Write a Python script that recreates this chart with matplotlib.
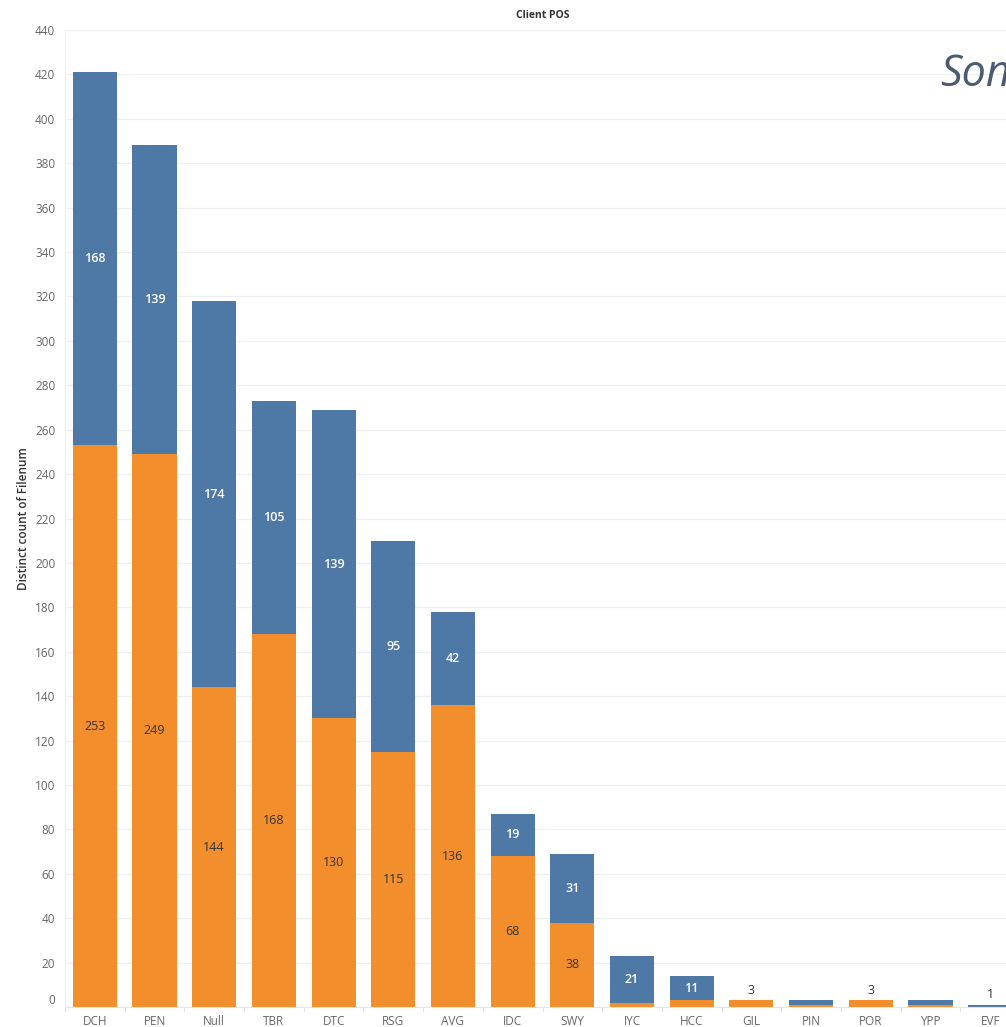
import matplotlib.pyplot as plt
import numpy as np

plt.rcParams['font.family'] = ['Open Sans', 'DejaVu Sans']

# data
categories = ['DCH', 'PEN', 'Null', 'TBR', 'DTC', 'RSG', 'AVG', 'IDC', 'SWY',
              'IYC', 'HCC', 'GIL', 'PIN', 'POR', 'YPP', 'EVF']
orange_vals = [253, 249, 144, 168, 130, 115, 136, 68, 38, 2, 3, 3, 1, 3, 1, 0]
blue_vals = [168, 139, 174, 105, 139, 95, 42, 19, 31, 21, 11, 0, 2, 0, 2, 1]

BLUE = '#4e79a7'
ORANGE = '#f28e2b'

fig = plt.figure(figsize=(10.06, 10.27), dpi=100)
# axes runs past the right edge like the screenshot
ax = fig.add_axes([65 / 1006, 20 / 1027, 955 / 1006, 977 / 1027])

x = np.arange(len(categories))
w = 0.74
ax.bar(x, orange_vals, width=w, color=ORANGE, zorder=2)
ax.bar(x, blue_vals, width=w, bottom=orange_vals, color=BLUE, zorder=2)

for i, (o, b) in enumerate(zip(orange_vals, blue_vals)):
    if b >= 10:
        ax.text(i, o + b / 2, str(b), ha='center', va='center', color='white',
                fontsize=9, fontweight='semibold', zorder=3)
    if o >= 10:
        ax.text(i, o / 2, str(o), ha='center', va='center', color='#333333',
                fontsize=9, zorder=3)
    # tiny bars get a label on top
    if o + b <= 3 and (o == 0 or b == 0):
        ax.text(i, o + b + 1.5, str(o + b), ha='center', va='bottom',
                color='#333333', fontsize=9, zorder=3)

ax.set_xlim(-0.5, len(categories) - 0.5)
ax.set_ylim(0, 440)
ax.set_yticks(np.arange(0, 441, 20))
ax.set_xticks(x)
ax.set_xticklabels(categories)
ax.tick_params(axis='both', length=0, colors='#666666', labelsize=8.5)
ax.tick_params(axis='x', pad=6)
ax.tick_params(axis='y', pad=7)
ax.yaxis.grid(True, color='#efefef', linewidth=0.9, zorder=0)
ax.set_axisbelow(True)
for s in ['top', 'right']:
    ax.spines[s].set_visible(False)
ax.spines['left'].set_color('#f0f0f0')
ax.spines['bottom'].set_color('#e6e6e6')

# small separators between categories on the x axis
for b in np.arange(-0.5, len(categories), 1):
    ax.plot([b, b], [0, -2], color='#e0e0e0', lw=0.8, clip_on=False)

ax.set_ylabel('Distinct count of Filenum', fontsize=8.5, color='#333333',
              fontweight='semibold', labelpad=3.5)
ax.set_title('Client POS', fontsize=7.5, fontweight='bold', color='#333333',
             pad=9)

fig.canvas.draw()
ylabels = ax.get_yticklabels()
ylabels[0].set_va('bottom')

# heading cut off at the right edge in the screenshot
fig.text(940 / 1006, 1 - 75 / 1027, 'Son', fontsize=31, style='italic',
         color='#4a5b73', ha='left', va='center')

fig.savefig('out.png', dpi=100)
